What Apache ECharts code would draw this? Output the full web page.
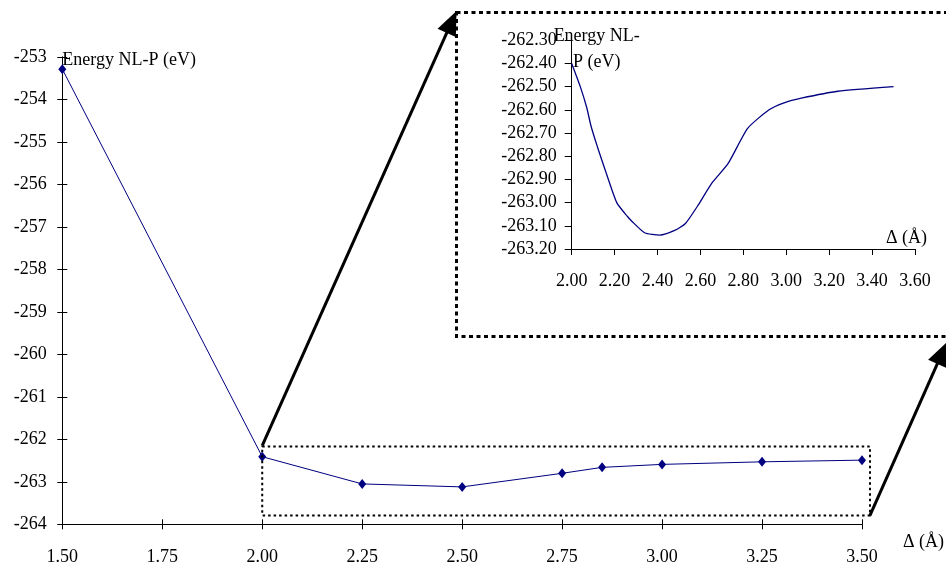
<!DOCTYPE html>
<html><head><meta charset="utf-8">
<script src="https://cdn.jsdelivr.net/npm/echarts@6/dist/echarts.min.js"></script>
<style>html,body{margin:0;padding:0;background:#fff}#c{width:946px;height:563px}</style>
</head><body><div id="c"></div>
<script>
// ---- data ----
const distances = [1.50, 2.00, 2.25, 2.50, 2.75, 2.85, 3.00, 3.25, 3.50];
const energies  = [-253.29, -262.41, -263.05, -263.12, -262.80, -262.66, -262.59, -262.53, -262.49];
const insetDistances = [2.00, 2.04, 2.07, 2.09, 2.12, 2.16, 2.21, 2.26, 2.28, 2.34, 2.41, 2.48, 2.53, 2.59, 2.65, 2.73, 2.82, 2.92, 2.99, 3.07, 3.24, 3.50];
const insetEnergies  = [-262.40, -262.50, -262.59, -262.67, -262.76, -262.87, -263.00, -263.06, -263.08, -263.13, -263.14, -263.12, -263.09, -263.01, -262.92, -262.83, -262.68, -262.60, -262.57, -262.55, -262.52, -262.50];
const mainXRange = [1.5, 3.5, 0.25];
const mainYRange = [-264, -253, 1];
const insetXRange = [2.0, 3.6, 0.2];
const insetYRange = [-263.2, -262.3, 0.1];
const zoomBoxX = [2.0, 3.52];
const zoomBoxY = [-263.79, -262.17];
const yName = 'Energy NL-P (eV)';
const yNameInset = 'Energy NL-\nP (eV)';
const xName = 'Δ (Å)';

// ---- chart ----
const FONT = 'Liberation Serif';
const txt = {fontFamily: FONT, fontSize: 18, color: '#000'};
const line = {show: true, lineStyle: {color: '#000', width: 1}};
const chart = echarts.init(document.getElementById('c'), null, {renderer: 'canvas'});
const pairs = (xs, ys) => xs.map((x, i) => [x, ys[i]]);

const option = {
  backgroundColor: '#fff',
  animation: false,
  grid: [
    {left: 62.3, top: 56.8, right: 84, bottom: 38.7, containLabel: false, outerBoundsMode: 'none'},
    {left: 571.7, top: 40.2, right: 31, bottom: 314, containLabel: false, outerBoundsMode: 'none'}
  ],
  xAxis: [
    {type: 'value', gridIndex: 0, position: 'bottom', min: mainXRange[0], max: mainXRange[1], interval: mainXRange[2],
     axisLine: line, axisTick: {show: true, length: 5, lineStyle: {color: '#000'}}, splitLine: {show: false},
     axisLabel: Object.assign({margin: 24, formatter: v => v.toFixed(2)}, txt),
     name: xName, nameLocation: 'end', nameGap: 41, nameMoveOverlap: false,
     nameTextStyle: Object.assign({align: 'left', verticalAlign: 'top', padding: [9, 0, 0, 0]}, txt)},
    {type: 'value', gridIndex: 0, position: 'bottom', min: mainXRange[0], max: mainXRange[1], interval: mainXRange[2],
     axisLine: {show: false}, axisTick: {show: true, inside: true, length: 5, lineStyle: {color: '#000'}},
     axisLabel: {show: false}, splitLine: {show: false}},
    {type: 'value', gridIndex: 1, position: 'bottom', min: insetXRange[0], max: insetXRange[1], interval: insetXRange[2],
     axisLine: line, axisTick: {show: true, length: 6, lineStyle: {color: '#000'}}, splitLine: {show: false},
     axisLabel: Object.assign({margin: 23, formatter: v => v.toFixed(2)}, txt),
     name: xName, nameLocation: 'end', nameGap: 12, nameMoveOverlap: false,
     nameTextStyle: Object.assign({align: 'right', verticalAlign: 'bottom', padding: [0, 0, 2, 0]}, txt)}
  ],
  yAxis: [
    {type: 'value', gridIndex: 0, position: 'left', min: mainYRange[0], max: mainYRange[1], interval: mainYRange[2],
     axisLine: line, axisTick: {show: true, length: 5, lineStyle: {color: '#000'}}, splitLine: {show: false},
     axisLabel: Object.assign({margin: 15.5, formatter: v => String(Math.round(v))}, txt),
     name: yName, nameLocation: 'end', nameGap: -3, nameMoveOverlap: false,
     nameTextStyle: Object.assign({align: 'left', verticalAlign: 'middle'}, txt)},
    {type: 'value', gridIndex: 0, position: 'left', min: mainYRange[0], max: mainYRange[1], interval: mainYRange[2],
     axisLine: {show: false}, axisTick: {show: true, inside: true, length: 5, lineStyle: {color: '#000'}},
     axisLabel: {show: false}, splitLine: {show: false}},
    {type: 'value', gridIndex: 1, position: 'left', min: insetYRange[0], max: insetYRange[1], interval: insetYRange[2],
     axisLine: line, axisTick: {show: true, length: 7, lineStyle: {color: '#000'}}, splitLine: {show: false},
     axisLabel: Object.assign({margin: 15, formatter: v => v.toFixed(2)}, txt),
     name: yNameInset, nameLocation: 'end', nameGap: -9, nameMoveOverlap: false,
     nameTextStyle: Object.assign({align: 'center', verticalAlign: 'middle', lineHeight: 26, padding: [0, 0, 0, 50]}, txt)}
  ],
  series: [
    {type: 'line', xAxisIndex: 0, yAxisIndex: 0, data: pairs(distances, energies),
     symbol: 'diamond', symbolSize: [8, 10], showAllSymbol: true,
     itemStyle: {color: '#000080'}, lineStyle: {color: '#000080', width: 1}},
    {type: 'line', xAxisIndex: 2, yAxisIndex: 2, data: pairs(insetDistances, insetEnergies),
     symbol: 'none', smooth: 0.2, lineStyle: {color: '#000080', width: 1.3}}
  ]
};
chart.setOption(option);

// ---- annotations: zoom box, inset frame, arrows ----
const a = chart.convertToPixel({gridIndex: 0}, [zoomBoxX[0], zoomBoxY[1]]);
const b = chart.convertToPixel({gridIndex: 0}, [zoomBoxX[1], zoomBoxY[0]]);
const frame = {x: 456.5, y: 12.5, w: 540, h: 324};

function arrow(x0, y0, x1, y1) {
  const dx = x1 - x0, dy = y1 - y0, L = Math.hypot(dx, dy);
  const ux = dx / L, uy = dy / L, hl = 24, hw = 10;
  const bx = x1 - ux * hl, by = y1 - uy * hl;
  return [
    {type: 'line', shape: {x1: x0, y1: y0, x2: bx + ux * 2, y2: by + uy * 2}, style: {stroke: '#000', lineWidth: 3}, z: 10},
    {type: 'polygon', shape: {points: [[x1, y1], [bx - uy * hw, by + ux * hw], [bx + uy * hw, by - ux * hw]]}, style: {fill: '#000'}, z: 10}
  ];
}

chart.setOption({
  graphic: [
    {type: 'rect', shape: {x: a[0], y: a[1], width: b[0] - a[0], height: b[1] - a[1]},
     style: {fill: 'none', stroke: '#000', lineWidth: 2, lineDash: [2.5, 3]}, z: 5},
    {type: 'rect', shape: {x: frame.x, y: frame.y, width: frame.w, height: frame.h},
     style: {fill: 'none', stroke: '#000', lineWidth: 3, lineDash: [4, 3.5]}, z: 5},
    ...arrow(a[0], a[1] - 1, frame.x, frame.y - 1.5),
    ...arrow(b[0], b[1], 947, 342)
  ]
});
</script></body></html>
